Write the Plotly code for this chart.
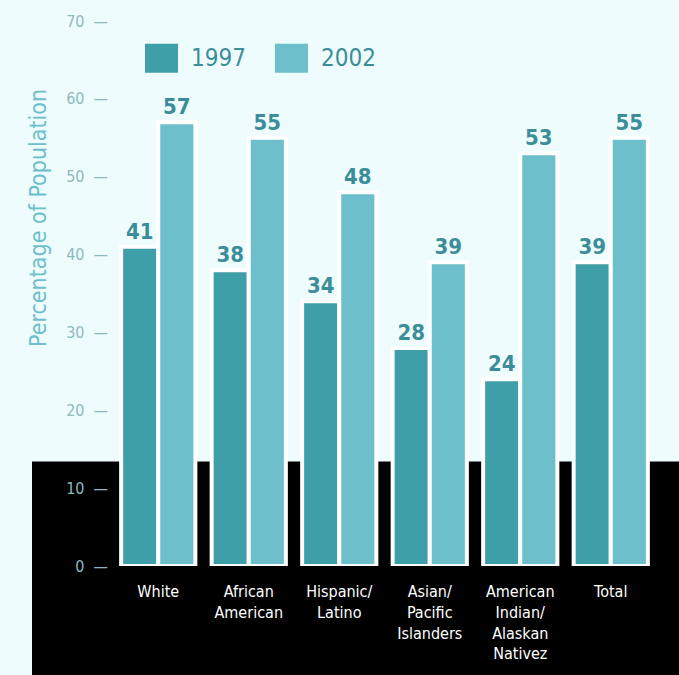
import plotly.graph_objects as go

categories = ["White", "African<br>American", "Hispanic/<br>Latino", "Asian/<br>Pacific<br>Islanders",
              "American<br>Indian/<br>Alaskan<br>Nativez", "Total"]
values_1997 = [41, 38, 34, 28, 24, 39]
values_2002 = [57, 55, 48, 39, 53, 55]
y_ticks = [0, 10, 20, 30, 40, 50, 60, 70]

W, H = 679, 675
ML, MR, MT, MB = 113, 23, 20, 107
PW, PH = W - ML - MR, H - MT - MB

def px_x(px):
    return (px - ML) / PW

def px_y(py):
    return (H - MB - py) / PH

FONT = "Liberation Sans Narrow, DejaVu Sans Condensed, Liberation Sans, Arial, sans-serif"
C97 = "#3f9fa9"
C02 = "#6dc0cb"
BG = "#effcfd"
LABEL = "#3b8e99"

fig = go.Figure()
fig.add_trace(go.Bar(x=categories, y=values_1997, name="1997",
                     marker=dict(color=C97, line=dict(color="white", width=4)),
                     text=values_1997, textposition="outside", cliponaxis=False,
                     textfont=dict(family=FONT, size=22, color=LABEL, weight="bold")))
fig.add_trace(go.Bar(x=categories, y=values_2002, name="2002",
                     marker=dict(color=C02, line=dict(color="white", width=4)),
                     text=values_2002, textposition="outside", cliponaxis=False,
                     textfont=dict(family=FONT, size=22, color=LABEL, weight="bold")))

# black band behind lower part
fig.add_shape(type="rect", xref="paper", yref="paper", layer="below",
              x0=px_x(32), x1=px_x(690), y0=px_y(690), y1=px_y(463),
              fillcolor="black", line=dict(width=0))

# custom legend
for x0, color, label in [(145, C97, "1997"), (275, C02, "2002")]:
    fig.add_shape(type="rect", xref="paper", yref="paper",
                  x0=px_x(x0), x1=px_x(x0 + 33), y0=px_y(72), y1=px_y(43),
                  fillcolor=color, line=dict(width=0))
    fig.add_annotation(xref="paper", yref="paper", x=px_x(x0 + 44), y=px_y(57),
                       text=label, showarrow=False, xanchor="left", yanchor="middle",
                       font=dict(family=FONT, size=24, color=LABEL))

fig.add_annotation(xref="paper", yref="paper", x=px_x(38), y=px_y(218),
                   text="Percentage of Population", textangle=-90, showarrow=False,
                   xanchor="center", yanchor="middle",
                   font=dict(family=FONT, size=23, color="#6cbfcb"))

fig.update_layout(
    width=W, height=H,
    margin=dict(l=ML, r=MR, t=MT, b=MB),
    paper_bgcolor=BG, plot_bgcolor="rgba(0,0,0,0)",
    barmode="group", bargap=0.18, bargroupgap=0,
    showlegend=False,
    font=dict(family=FONT),
)
fig.update_xaxes(showgrid=False, showline=False, zeroline=False, ticks="",
                 tickfont=dict(family=FONT, size=16, color="white"),
                 ticklabelstandoff=14)
fig.update_yaxes(range=[0, 70], tickvals=y_ticks, ticktext=[f"{v}  —" for v in y_ticks],
                 showgrid=False, showline=False, zeroline=False, ticks="",
                 tickfont=dict(family=FONT, size=16, color="#8db9c0"),
                 ticklabelstandoff=4)

fig.write_html("out.html")
